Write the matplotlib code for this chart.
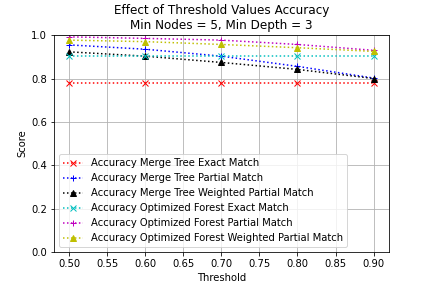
import matplotlib
matplotlib.use("Agg")
import matplotlib.pyplot as plt

# threshold values on the x axis
thresholds = [0.5, 0.6, 0.7, 0.8, 0.9]

# accuracy per method
mt_exact = [0.78, 0.78, 0.78, 0.78, 0.78]
mt_partial = [0.955, 0.935, 0.903, 0.856, 0.802]
mt_weighted = [0.923, 0.903, 0.874, 0.842, 0.800]
of_exact = [0.903, 0.903, 0.903, 0.903, 0.903]
of_partial = [0.992, 0.985, 0.977, 0.957, 0.930]
of_weighted = [0.977, 0.970, 0.957, 0.942, 0.925]

labels = [
    "Accuracy Merge Tree Exact Match",
    "Accuracy Merge Tree Partial Match",
    "Accuracy Merge Tree Weighted Partial Match",
    "Accuracy Optimized Forest Exact Match",
    "Accuracy Optimized Forest Partial Match",
    "Accuracy Optimized Forest Weighted Partial Match",
]
series = [mt_exact, mt_partial, mt_weighted, of_exact, of_partial, of_weighted]
fmts = ["r:x", "b:+", "k:^", "c:x", "m:+", "y:^"]

fig, ax = plt.subplots(figsize=(6, 4), dpi=72)
fig.subplots_adjust(left=0.125, right=0.9, bottom=0.125, top=0.878)

for vals, fmt, lab in zip(series, fmts, labels):
    ax.plot(thresholds, vals, fmt, label=lab)

ax.set_ylim(0, 1.0)
ax.set_xlabel("Threshold")
ax.set_ylabel("Score")
ax.set_title("Effect of Threshold Values Accuracy\nMin Nodes = 5, Min Depth = 3")
ax.grid(True)
ax.legend(loc="lower left")

fig.savefig("out.png", dpi=72)
